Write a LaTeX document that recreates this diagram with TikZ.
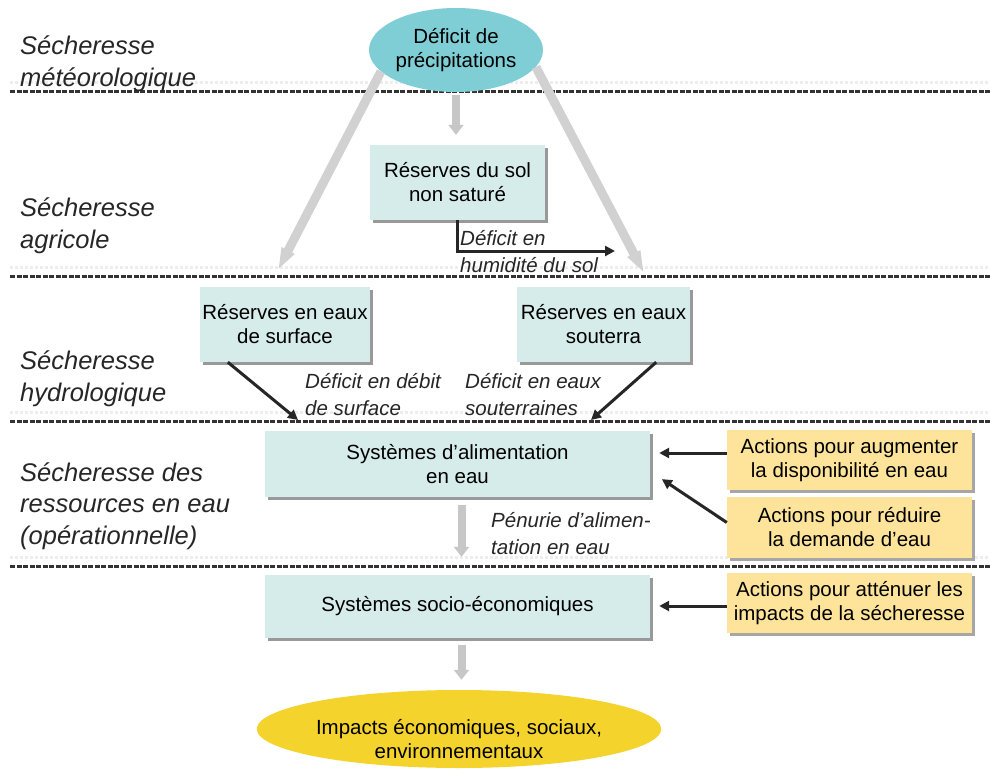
\documentclass[tikz,border=0pt]{standalone}
\usepackage{fontspec}
\setmainfont{Liberation Sans}
\usetikzlibrary{shapes.geometric,arrows.meta,shadows,calc}
\definecolor{boxfill}{HTML}{D5ECEA}
\definecolor{topfill}{HTML}{7FCDD5}
\definecolor{actfill}{HTML}{FDE49A}
\definecolor{impfill}{HTML}{F4D32C}
\newcommand\myboxfont{\fontsize{20.5}{24}\selectfont}
\newcommand\mysidefont{\fontsize{25.5}{31.5}\selectfont\itshape}
\newcommand\mylabfont{\fontsize{20.5}{27}\selectfont\itshape}
\begin{document}
\begin{tikzpicture}[x=1pt,y=-1pt,
  sepline/.style={line width=3pt, draw=black!80, dash pattern=on 5pt off 1.5pt},
  sepfaint/.style={line width=3pt, draw=black!7, dash pattern=on 3pt off 2pt},
  box/.style={fill=boxfill, draw=none, inner sep=0pt, align=center, font=\myboxfont,
    drop shadow={shadow xshift=3pt, shadow yshift=-3pt, fill=black!40, opacity=1}},
  actbox/.style={fill=actfill, draw=none, inner sep=0pt, align=center, font=\myboxfont,
    drop shadow={shadow xshift=3pt, shadow yshift=-3pt, fill=black!35, opacity=1}},
  side/.style={anchor=west, align=left, inner sep=0pt, font=\mysidefont, text=black!85},
  lab/.style={anchor=west, align=left, inner sep=0pt, font=\mylabfont, text=black!85},
  grayarrow/.style={line width=8pt, draw=black!22, -{Triangle[width=15pt,length=10pt]}},
  biggray/.style={line width=9pt, draw=black!18, -{Triangle[width=13pt,length=22pt]}},
  blackarrow/.style={line width=3pt, draw=black!85, -{Triangle[width=10pt,length=10pt]}}
]
\useasboundingbox (0,0) rectangle (990,770);

% separators
\foreach \yy in {92,276,421,566}{
  \draw[sepfaint] (10,\yy-9) -- (990,\yy-9);
  \draw[sepline] (10,\yy) -- (990,\yy);
}

% side labels
\node[side] (s1) at (20,64) {Sécheresse\\météorologique};
\node[side] (s2) at (20,226) {Sécheresse\\agricole};
\node[side] (s3) at (20,379) {Sécheresse\\hydrologique};
\node[side] (s4) at (20,506) {Sécheresse des\\ressources en eau\\(opérationnelle)};

% nodes
\node[ellipse, fill=topfill, minimum width=174pt, minimum height=84pt, inner sep=0pt,
  align=center, font=\myboxfont] (top) at (456,50) {Déficit de\\précipitations};
\node[box, minimum width=175pt, minimum height=75pt] (sol) at (457.5,182.5) {Réserves du sol\\non saturé};
\node[box, minimum width=170pt, minimum height=75pt] (surf) at (285,324.5) {Réserves en eaux\\de surface};
\node[box, minimum width=173pt, minimum height=75pt] (sout) at (603.5,324.5) {Réserves en eaux\\souterra};
\node[box, minimum width=385pt, minimum height=66pt] (alim) at (457.5,464) {Systèmes d’alimentation\\en eau};
\node[box, minimum width=385pt, minimum height=63pt] (socio) at (457.5,606.5) {Systèmes socio-économiques};
\node[actbox, minimum width=245pt, minimum height=60pt] (act1) at (849.5,460) {Actions pour augmenter\\la disponibilité en eau};
\node[actbox, minimum width=245pt, minimum height=61pt] (act2) at (849.5,527.5) {Actions pour réduire\\la demande d’eau};
\node[actbox, minimum width=245pt, minimum height=60pt] (act3) at (849.5,603) {Actions pour atténuer les\\impacts de la sécheresse};
\node[ellipse, fill=impfill, minimum width=355pt, minimum height=78pt, inner sep=0pt,
  font=\myboxfont] (imp) at (459,729)
  {\raisebox{-13pt}[\height][\depth]{\begin{tabular}{@{}c@{}}Impacts économiques, sociaux,\\environnementaux\end{tabular}}};

% labels
\node[lab] (l1) at (460,251.5) {Déficit en\\humidité du sol};
\node[lab] (l2) at (305,394.5) {Déficit en débit\\de surface};
\node[lab] (l3) at (465,394.5) {Déficit en eaux\\souterraines};
\node[lab] (l4) at (491,533.5) {Pénurie d’alimen-\\tation en eau};

% free ends
\coordinate (lend) at (278,270);
\coordinate (rend) at (644,273);
\coordinate (hum) at (615,251);
\coordinate (d1) at (298,420);
\coordinate (d2) at (591,420);

% gray arrows
\draw[biggray] (top.196) -- (lend);
\draw[biggray] (top.-12) -- (rend);
\draw[grayarrow, shorten <=3pt, shorten >=10pt] (top.south) -- (top.south |- sol.north);
\draw[grayarrow, shorten <=8pt, shorten >=18pt] ([xshift=4pt]alim.south) -- ([xshift=4pt]alim.south |- socio.north);
\draw[grayarrow, shorten <=7pt, shorten >=10pt] ([xshift=4pt]socio.south) -- ([xshift=4pt]socio.south |- imp.north);

% black arrows
\draw[blackarrow] (sol.south) |- (hum);
\draw[blackarrow] ([xshift=28pt]surf.south west) -- (d1);
\draw[blackarrow] ([xshift=-34pt]sout.south east) -- (d2);
\draw[blackarrow, shorten >=9pt] ([yshift=7pt]act1.west) -- ([yshift=7pt]act1.west -| alim.east);
\draw[blackarrow, shorten >=2pt] ([yshift=5pt]act2.west) -- ($(alim.east)+(10,14)$);
\draw[blackarrow, shorten >=9pt] ([yshift=-3pt]act3.west) -- ([yshift=-3pt]act3.west -| socio.east);
\end{tikzpicture}
\end{document}
